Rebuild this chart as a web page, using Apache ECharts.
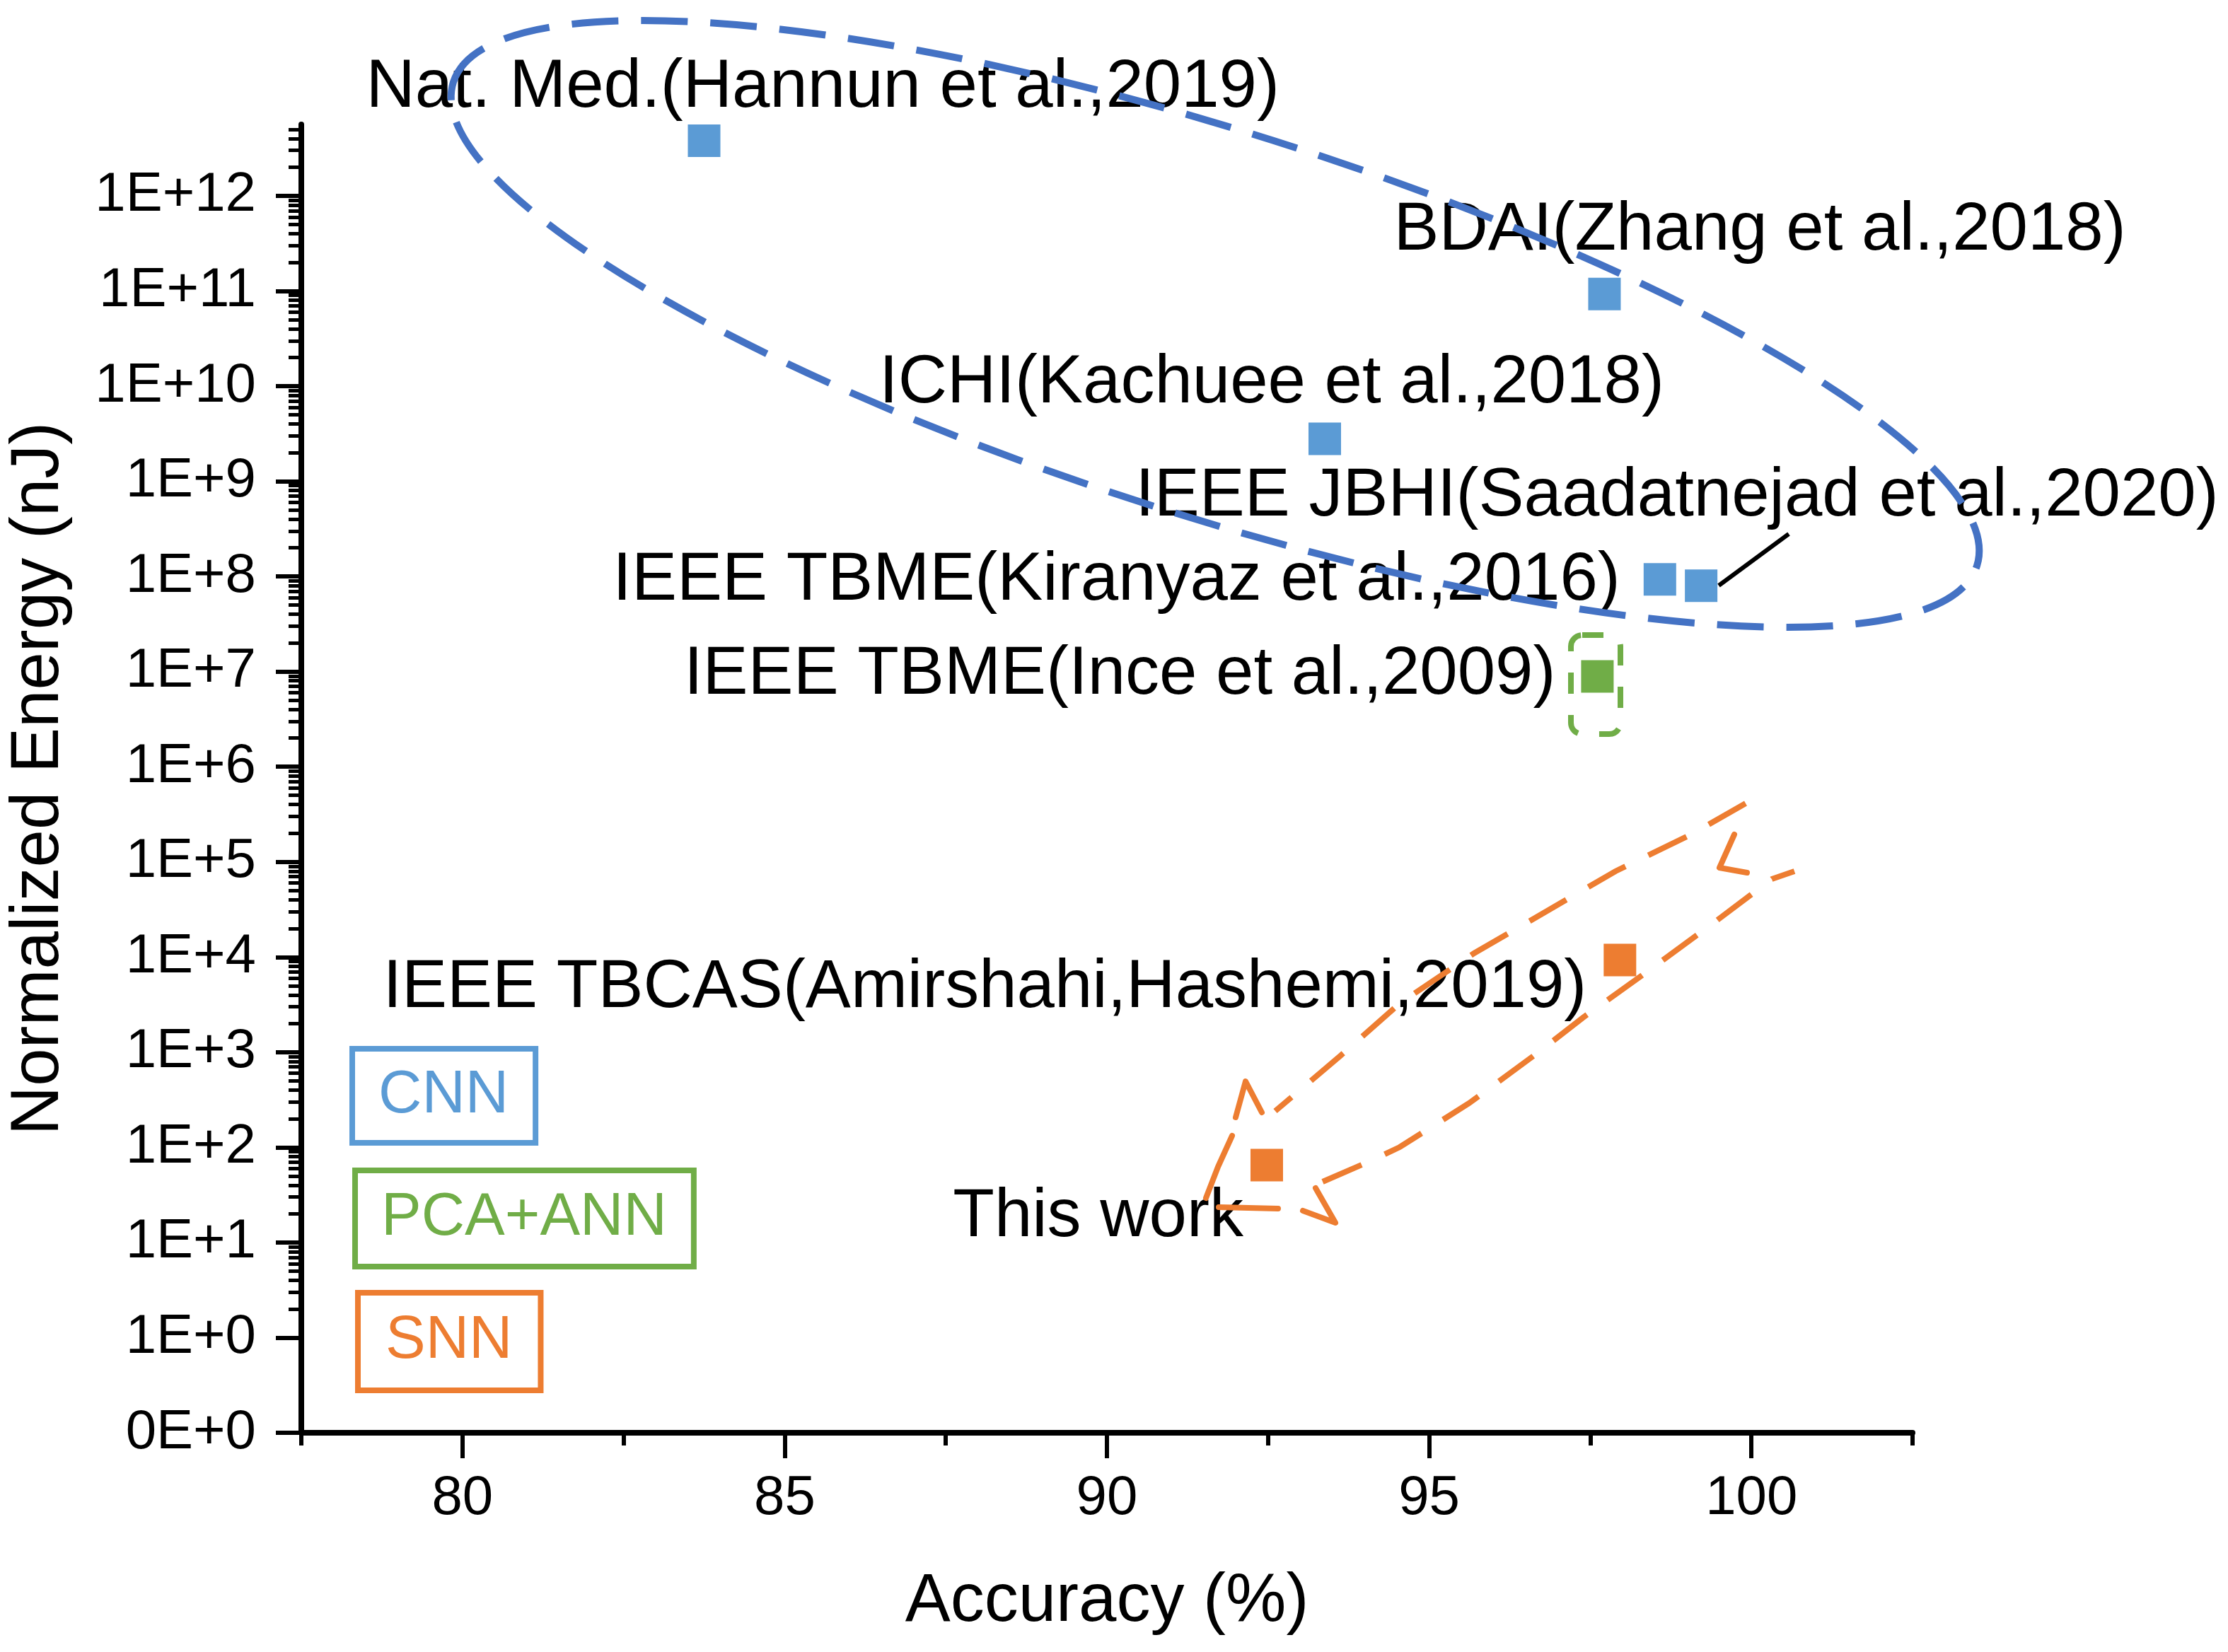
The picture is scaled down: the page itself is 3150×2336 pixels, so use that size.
<!doctype html>
<html lang="en">
<head>
    <meta charset="UTF-8">
    <title>Normalized Energy vs Accuracy</title>
    <script src="https://cdn.jsdelivr.net/npm/echarts@6/dist/echarts.min.js"></script>
    <style>
        html, body { margin: 0; padding: 0; background: #ffffff; }
        #chart { width: 3150px; height: 2336px; }
    </style>
</head>
<body>
    <div id="chart"></div>

    <script>
        // --- data: accuracy (%) and normalized energy (nJ) ---
        const cnnNames = [
            'Nat. Med.(Hannun et al.,2019)',
            'BDAI(Zhang et al.,2018)',
            'ICHI(Kachuee et al.,2018)',
            'IEEE TBME(Kiranyaz et al.,2016)',
            'IEEE JBHI(Saadatnejad et al.,2020)'
        ];
        const cnnAccuracy = [83.75, 97.72, 93.38, 98.58, 99.22];
        const cnnEnergy = [3.8e12, 9.3e10, 2.8e9, 9.3e7, 8.0e7];

        const pcaNames = ['IEEE TBME(Ince et al.,2009)'];
        const pcaAccuracy = [97.61];
        const pcaEnergy = [8.9e6];

        const snnNames = ['IEEE TBCAS(Amirshahi,Hashemi,2019)', 'This work'];
        const snnAccuracy = [97.96, 92.48];
        const snnEnergy = [9.3e3, 65];

        // axis ticks
        const xTicks = [80, 85, 90, 95, 100];
        const xMinorTicks = [77.5, 82.5, 87.5, 92.5, 97.5, 102.5];
        const yDecades = [-1, 0, 1, 2, 3, 4, 5, 6, 7, 8, 9, 10, 11, 12];   // -1 is labelled 0E+0
        const yMinorTicks = [];
        for (let n = 0; n <= 12; n++) {
            for (let k = 2; k <= 9; k++) {
                const v = n + Math.log10(k);
                if (v <= 12.75) yMinorTicks.push(v);
            }
        }

        // label placement (pixel offset from the marker centre)
        const cnnLabelPos = [
            { offset: [-478, -74], align: 'left' },
            { offset: [-298, -89], align: 'left' },
            { offset: [-630, -78], align: 'left' },
            { offset: [-56, 2], align: 'right' },
            { offset: [-800, -126], align: 'left' }
        ];
        const pcaLabelPos = [{ offset: [-59, -2], align: 'right' }];
        const snnLabelPos = [
            { offset: [-47, 40], align: 'right' },
            { offset: [-33, 74], align: 'right' }
        ];

        const FONT = '"Liberation Sans", Arial, Helvetica, sans-serif';
        const BLUE = '#5B9BD5', GREEN = '#70AD47', ORANGE = '#ED7D31', RING = '#4472C4';

        function buildData(names, acc, energy, pos) {
            return names.map((n, i) => ({
                name: n,
                value: [acc[i], Math.log10(energy[i])],
                label: { offset: pos[i].offset, align: pos[i].align }
            }));
        }

        const pointLabel = {
            show: true,
            position: ['50%', '50%'],
            formatter: '{b}',
            color: '#000000',
            fontFamily: FONT,
            fontSize: 96,
            verticalAlign: 'middle'
        };

        function legendBox(name, color, left, top, padding) {
            return {
                data: [name],
                left: left,
                top: top,
                orient: 'horizontal',
                icon: 'none',
                itemWidth: 0,
                itemHeight: 84,
                selectedMode: false,
                padding: padding,
                borderColor: color,
                borderWidth: 8,
                textStyle: { color: color, fontSize: 85, fontFamily: FONT, lineHeight: 84 }
            };
        }

        function scatterSeries(name, color, data) {
            return {
                name: name,
                type: 'scatter',
                symbol: 'rect',
                symbolSize: 46,
                itemStyle: { color: color, opacity: 1 },
                label: pointLabel,
                data: data
            };
        }

        const chart = echarts.init(document.getElementById('chart'));
        chart.setOption({
            backgroundColor: '#ffffff',
            animation: false,
            grid: { left: 408, right: 446, top: 176, bottom: 310 },
            legend: [
                legendBox('CNN', BLUE, 498, 1483, [24, 38, 24, 32]),
                legendBox('PCA+ANN', GREEN, 502, 1655, [25, 38, 26, 32]),
                legendBox('SNN', ORANGE, 506, 1828, [26, 40, 27, 34])
            ],
            xAxis: [{
                type: 'value',
                position: 'bottom',
                min: 77.5,
                max: 102.5,
                name: 'Accuracy (%)',
                nameLocation: 'middle',
                nameGap: 192,
                nameTextStyle: { color: '#000', fontSize: 96, fontFamily: FONT },
                axisLine: { onZero: false, lineStyle: { color: '#000', width: 8 } },
                axisTick: { customValues: xTicks, length: 36, lineStyle: { color: '#000', width: 6 } },
                axisLabel: { customValues: xTicks, margin: 54, color: '#000', fontSize: 78, fontFamily: FONT },
                splitLine: { show: false }
            }, {
                type: 'value',
                position: 'bottom',
                min: 77.5,
                max: 102.5,
                axisLine: { show: false, onZero: false },
                axisTick: { customValues: xMinorTicks, length: 18, lineStyle: { color: '#000', width: 6 } },
                axisLabel: { show: false },
                splitLine: { show: false }
            }],
            yAxis: [{
                type: 'value',
                position: 'left',
                min: -1,
                max: 12.75,
                name: 'Normalized Energy (nJ)',
                nameLocation: 'middle',
                nameGap: 322,
                nameTextStyle: { color: '#000', fontSize: 96, fontFamily: FONT },
                axisLine: { onZero: false, lineStyle: { color: '#000', width: 8 } },
                axisTick: { customValues: yDecades, length: 36, lineStyle: { color: '#000', width: 6 } },
                axisLabel: {
                    customValues: yDecades,
                    margin: 64,
                    color: '#000',
                    fontSize: 78,
                    fontFamily: FONT,
                    formatter: v => (v === -1 ? '0E+0' : '1E+' + v)
                },
                splitLine: { show: false }
            }, {
                type: 'value',
                position: 'left',
                min: -1,
                max: 12.75,
                axisLine: { show: false, onZero: false },
                axisTick: { customValues: yMinorTicks, length: 18, lineStyle: { color: '#000', width: 5 } },
                axisLabel: { show: false },
                splitLine: { show: false }
            }],
            series: [
                scatterSeries('CNN', BLUE, buildData(cnnNames, cnnAccuracy, cnnEnergy, cnnLabelPos)),
                scatterSeries('PCA+ANN', GREEN, buildData(pcaNames, pcaAccuracy, pcaEnergy, pcaLabelPos)),
                scatterSeries('SNN', ORANGE, buildData(snnNames, snnAccuracy, snnEnergy, snnLabelPos))
            ]
        });

        // --- hand-drawn style group outlines (pixel annotations) ---
        const dashed = (color, dash) => ({ stroke: color, lineWidth: 8, lineDash: dash, fill: null, lineCap: 'butt' });
        const solid = color => ({ stroke: color, lineWidth: 8, fill: null, lineCap: 'round', lineJoin: 'round' });
        const orangeParts = [
            { pts: [[2468, 1136], [2391, 1180], [2284, 1232], [2084, 1348], [1980, 1418], [1895, 1493], [1803, 1571]], dash: true },
            { pts: [[1747, 1580], [1761, 1529], [1784, 1573]], dash: false },
            { pts: [[1742, 1606], [1722, 1650], [1705, 1694]], dash: false },
            { pts: [[1723, 1707], [1807, 1709]], dash: false },
            { pts: [[1860, 1680], [1888, 1729], [1842, 1712]], dash: false },
            { pts: [[1870, 1671], [1937, 1642], [1979, 1622], [2077, 1560], [2175, 1488], [2238, 1439], [2337, 1368], [2428, 1301], [2505, 1243], [2537, 1232]], dash: true },
            { pts: [[2452, 1180], [2431, 1227], [2470, 1234]], dash: false }
        ];
        chart.setOption({
            graphic: [{
                type: 'ellipse',
                x: 1718, y: 458,
                rotation: -17.6 * Math.PI / 180,
                shape: { cx: 0, cy: 0, rx: 1130, ry: 272 },
                style: { stroke: RING, lineWidth: 10, lineDash: [66, 32], fill: null },
                z: 10, silent: true
            }, {
                type: 'rect',
                shape: { x: 2221, y: 898, width: 70, height: 140, r: 16 },
                style: dashed(GREEN, [30, 30]),
                z: 10, silent: true
            }, {
                type: 'line',
                shape: { x1: 2430, y1: 828, x2: 2529, y2: 755 },
                style: { stroke: '#000', lineWidth: 6 },
                z: 10, silent: true
            }].concat(orangeParts.map(p => ({
                type: 'polyline',
                shape: { points: p.pts },
                style: p.dash ? dashed(ORANGE, [60, 36]) : solid(ORANGE),
                z: 10, silent: true
            })))
        });
    </script>
</body>
</html>
